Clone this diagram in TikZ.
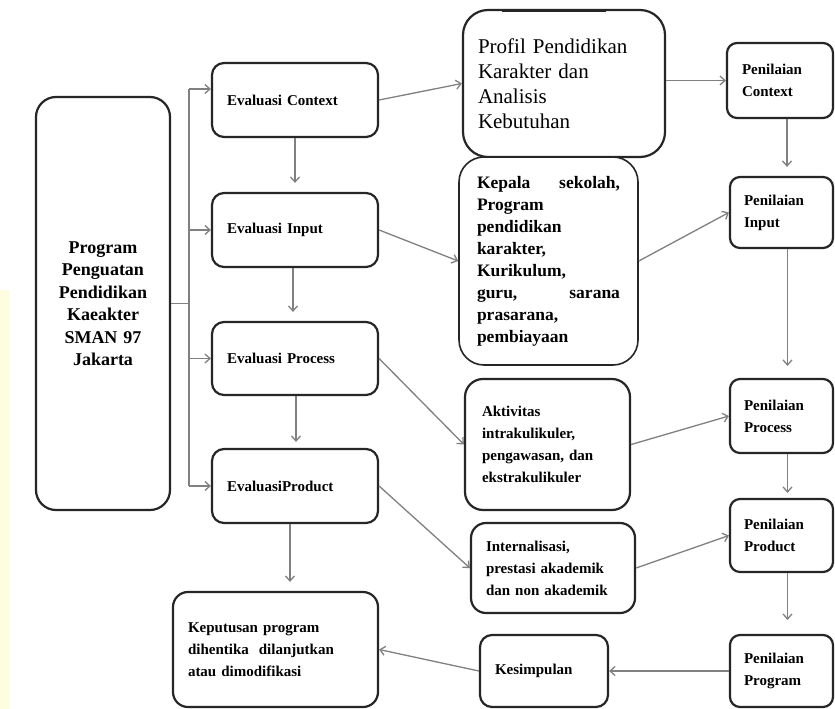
\documentclass[tikz,border=0pt]{standalone}
\usepackage{fontspec}
\setmainfont{Liberation Serif}
\usetikzlibrary{arrows.meta}
\begin{document}
\begin{tikzpicture}[x=1pt,y=-1pt,
  box/.style={draw=black!85, line width=2.2pt, rounded corners=12pt, fill=white, inner ysep=0pt, align=left},
  sm/.style={font={\fontsize{15}{22}\selectfont\bfseries}},
  evbox/.style={box, sm, inner xsep=15pt, text width=136pt, minimum height=74pt},
  penbox/.style={box, sm, rounded corners=10pt, inner xsep=14pt, text width=75pt, minimum height=73pt},
  arr/.style={draw=black!50, line width=1.3pt, -{Straight Barb[length=5pt,width=9pt]}},
  ln/.style={draw=black!50, line width=1.3pt},
  varr/.style={arr, shorten >=9pt}]
\useasboundingbox (0,0) rectangle (835,709);
\fill[white] (0,0) rectangle (835,709);
\fill[yellow!12] (0,290) rectangle (10,709);

% left main box
\node[box, rounded corners=20pt, align=center, inner xsep=5pt, text width=124pt, minimum height=413pt,
  font={\fontsize{18}{22.5}\selectfont\bfseries}] (main) at (103,303.5)
  {Program\\Penguatan\\Pendidikan\\Kaeakter\\SMAN 97\\Jakarta};

% evaluation column
\node[evbox] (ec) at (295,100) {Evaluasi Context};
\node[evbox] (ei) at (295,230) {Evaluasi Input};
\node[evbox, minimum height=73pt] (ep) at (295,358.5) {Evaluasi Process};
\node[evbox] (epr) at (295,486) {EvaluasiProduct};
\node[box, sm, rounded corners=15pt, inner xsep=15pt, text width=175pt, minimum height=115pt] (dec) at (275.5,649.5)
  {Keputusan program\\dihentika\ \ dilanjutkan\\atau dimodifikasi};

% middle column
\node[box, rounded corners=25pt, inner xsep=15pt, text width=172pt, minimum height=147pt,
  font={\fontsize{21}{25}\selectfont}] (prof) at (564,83.5)
  {Profil Pendidikan\\Karakter dan\\Analisis\\Kebutuhan};
\draw[black!85, line width=3pt] ([xshift=40pt,yshift=-1.5pt]prof.north west) -- ([xshift=-60pt,yshift=-1.5pt]prof.north east);
\node[box, line width=1.6pt, rounded corners=25pt, inner xsep=18pt, text width=143pt, minimum height=208pt,
  font={\fontsize{17.5}{22}\selectfont\bfseries}] (kep) at (548.5,261)
  {Kepala\hfill sekolah,\\Program\\pendidikan\\karakter,\\Kurikulum,\\guru,\hfill sarana\\prasarana,\\pembiayaan};
\node[box, sm, rounded corners=18pt, inner xsep=17pt, text width=131pt, minimum height=131pt] (akt) at (547.5,444.5)
  {Aktivitas\\intrakulikuler,\\pengawasan, dan\\ekstrakulikuler};
\node[box, sm, rounded corners=15pt, inner xsep=15pt, text width=134pt, minimum height=90pt] (int) at (553,568)
  {Internalisasi,\\prestasi akademik\\dan non akademik};
\node[box, sm, rounded corners=12pt, inner xsep=15pt, text width=98pt, minimum height=72pt] (kes) at (544,671)
  {Kesimpulan};

% right column
\node[penbox, inner xsep=15pt, text width=76pt, minimum height=75pt] (pc) at (780,80.5) {Penilaian\\Context};
\node[penbox, minimum height=71pt] (pi) at (781.5,212.5) {Penilaian\\Input};
\node[penbox, minimum height=74pt] (pp) at (781.5,416) {Penilaian\\Process};
\node[penbox] (ppr) at (781.5,535.5) {Penilaian\\Product};
\node[penbox, minimum height=72pt] (pg) at (781.5,671) {Penilaian\\Program};

% branch from main box
\coordinate (j) at (189,303.5);
\coordinate (jt) at ([yshift=11pt]j |- ec.west);
\coordinate (jb) at (j |- epr.west);
\draw[ln] (main.east) -- (j);
\draw[ln] (jt) -- (jb);
\draw[arr] (jt) -- ([yshift=11pt]ec.west);
\draw[arr] (j |- ei.west) -- (ei.west);
\draw[arr] (j |- ep.west) -- (ep.west);
\draw[arr] (jb) -- (epr.west);

% vertical arrows in evaluation column
\draw[varr] (ec.south) -- (ec.south |- ei.north);
\draw[varr] ([xshift=-2pt]ei.south) -- ([xshift=-2pt]ei.south |- ep.north);
\draw[varr, shorten >=6pt] ([xshift=1pt]ep.south) -- ([xshift=1pt]ep.south |- epr.north);
\draw[varr] ([xshift=-5pt]epr.south) -- ([xshift=-5pt]epr.south |- dec.north);

% evaluation to middle
\draw[arr] (ec.east) -- (prof.west);
\draw[arr] (ei.east) -- (kep.west);
\draw[arr] (ep.east) -- (akt.west);
\draw[arr] (epr.east) -- (int.west);

% middle to right
\draw[arr] (prof.east |- pc.west) -- (pc.west);
\draw[arr] (kep.east) -- (pi.west);
\draw[arr] (akt.east) -- (pp.west);
\draw[arr] (int.east) -- (ppr.west);

% right column vertical
\draw[varr] ([xshift=7pt]pc.south) -- ([xshift=7pt]pc.south |- pi.north);
\draw[varr, shorten >=12pt] ([xshift=6pt]pi.south) -- ([xshift=6pt]pi.south |- pp.north);
\draw[varr, shorten >=5pt] ([xshift=6pt]pp.south) -- ([xshift=6pt]pp.south |- ppr.north);
\draw[varr, shorten >=14pt] ([xshift=6pt]ppr.south) -- ([xshift=6pt]ppr.south |- pg.north);

% bottom row
\draw[arr] (pg.west) -- (kes.east);
\draw[arr] (kes.west) -- (dec.east);
\end{tikzpicture}
\end{document}
